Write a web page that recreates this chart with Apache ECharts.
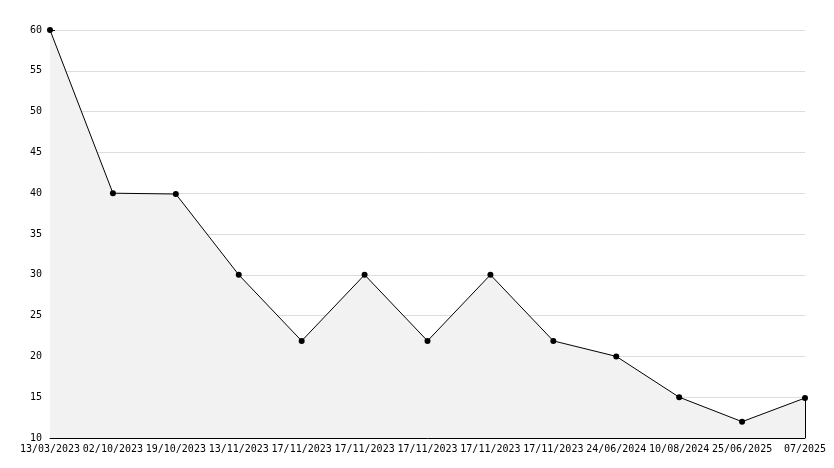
<!DOCTYPE html>
<html>
<head>
<meta charset="utf-8">
<script src="https://cdn.jsdelivr.net/npm/echarts@6/dist/echarts.min.js"></script>
<style>html,body{margin:0;padding:0;background:#fff}#c{width:834px;height:468px}</style>
</head>
<body>
<div id="c"></div>
<script>
const categories = ["13/03/2023","02/10/2023","19/10/2023","13/11/2023","17/11/2023","17/11/2023","17/11/2023","17/11/2023","17/11/2023","24/06/2024","10/08/2024","25/06/2025","07/2025"];
const values = [60, 40, 39.9, 30, 21.9, 30, 21.9, 30, 21.9, 20, 15, 12, 14.9];
const yMin = 10, yMax = 60, yStep = 5;

const chart = echarts.init(document.getElementById('c'), null, {renderer: 'canvas'});
const font = {fontFamily: 'DejaVu Sans Mono', fontSize: 10, color: '#000'};
const lastIdx = categories.length - 1;
chart.setOption({
  animation: false,
  backgroundColor: '#fff',
  grid: {left: 50, right: 29, top: 30, bottom: 30, containLabel: false},
  xAxis: {
    type: 'category',
    data: categories.map((c, i) => i),
    boundaryGap: false,
    axisLine: {lineStyle: {color: '#000', width: 1}},
    axisTick: {show: true, inside: true, length: 6, alignWithLabel: true, lineStyle: {color: '#000'}},
    axisLabel: Object.assign({interval: 0, margin: 6, formatter: (v) => categories[+v]}, font),
    splitLine: {show: false}
  },
  yAxis: {
    type: 'value',
    min: yMin, max: yMax, interval: yStep,
    axisLine: {show: true, lineStyle: {color: '#000', width: 1}},
    axisTick: {show: true, inside: true, length: 5, lineStyle: {color: '#000'}},
    minorTick: {show: true, splitNumber: 5, length: 3, lineStyle: {color: '#000'}},
    axisLabel: Object.assign({margin: 8}, font),
    splitLine: {show: true, lineStyle: {color: '#dddddd', width: 1}}
  },
  series: [{
    type: 'line',
    data: values,
    symbol: 'circle',
    symbolSize: 6,
    itemStyle: {color: '#000'},
    lineStyle: {color: '#000', width: 1},
    areaStyle: {color: '#f2f2f2', opacity: 1, origin: 'start'},
    markLine: {
      silent: true,
      symbol: 'none',
      label: {show: false},
      lineStyle: {color: '#000', width: 1, type: 'solid'},
      data: [[{coord: [lastIdx, yMin]}, {coord: [lastIdx, values[lastIdx]]}]]
    },
    z: 3
  }]
});
</script>
</body>
</html>
